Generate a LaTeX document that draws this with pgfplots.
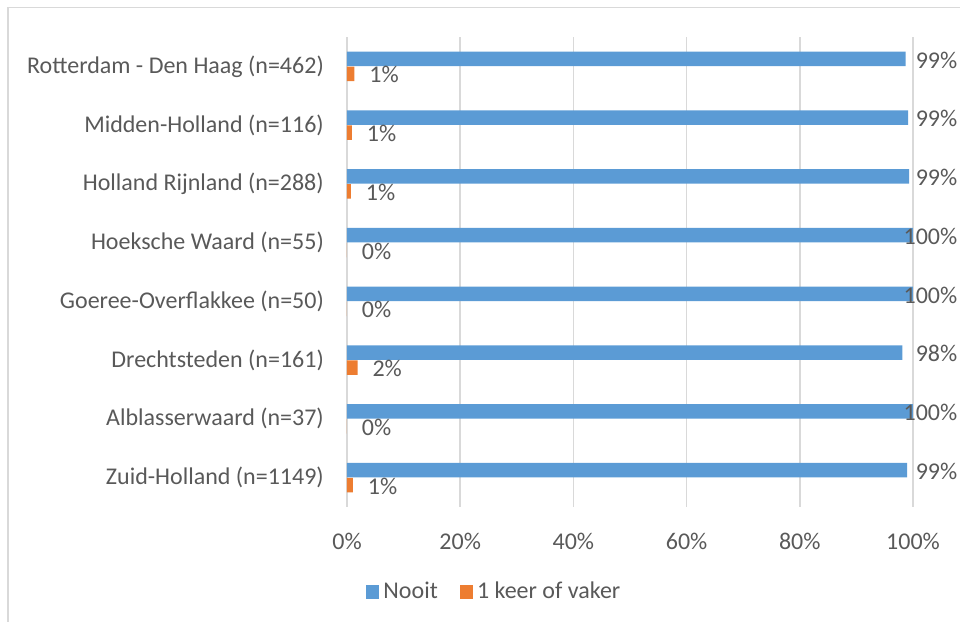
\documentclass[border=0pt]{standalone}
\usepackage{fontspec}
\setmainfont{Carlito}
\usepackage{pgfplots}
\pgfplotsset{compat=1.18}
\definecolor{nooit}{HTML}{5B9BD5}
\definecolor{vaker}{HTML}{ED7D31}
\definecolor{txt}{HTML}{595959}
\definecolor{grd}{HTML}{D9D9D9}

\begin{document}
\fontsize{12}{14.4}\selectfont
\begin{tikzpicture}[x=1pt,y=1pt]
\useasboundingbox (0,0) rectangle (480,311);
\draw[grd, line width=0.8pt] (4,307.3) rectangle (490,-10);
\begin{axis}[
    at={(173.5pt,57.5pt)}, anchor=south west,
    scale only axis, width=283pt, height=235pt,
    xmin=0, xmax=100, ymin=-0.5, ymax=7.5, y dir=reverse,
    clip=false,
    axis line style={draw=none},
    xtick={0,20,40,60,80,100},
    xticklabels={0\%,20\%,40\%,60\%,80\%,100\%},
    ytick={0,1,2,3,4,5,6,7},
    yticklabels={Rotterdam - Den Haag (n=462), Midden-Holland (n=116),
      Holland Rijnland (n=288), Hoeksche Waard (n=55),
      Goeree-Overflakkee (n=50), Drechtsteden (n=161),
      Alblasserwaard (n=37), Zuid-Holland (n=1149)},
    major tick length=0pt,
    tick style={draw=none},
    xmajorgrids,
    grid style={grd, line width=0.75pt},
    ticklabel style={text=txt},
    yticklabel style={xshift=-7.4pt},
    xticklabel style={yshift=-9pt},
    legend style={at={(0.262,-0.181)}, anchor=center, draw=none,
      legend columns=2, text=txt,
      /tikz/every even column/.append style={column sep=9pt}},
]
\addplot[xbar, bar width=7.3pt, bar shift=3.75pt, fill=nooit, draw=none,
  legend image code/.code={\fill[nooit] (0pt,-3.3pt) rectangle (6.6pt,3.3pt);}]
coordinates {
  (98.70,0) (99.14,1) (99.31,2) (100,3)
  (100,4) (98.14,5) (100,6) (98.96,7)
};
\addplot[xbar, bar width=7.3pt, bar shift=-3.75pt, fill=vaker, draw=none,
  nodes near coords, point meta=explicit symbolic,
  every node near coord/.append style={anchor=west, xshift=3.3pt, yshift=-4.2pt, text=txt},
  legend image code/.code={\fill[vaker] (0pt,-3.3pt) rectangle (6.6pt,3.3pt);}]
coordinates {
  (1.30,0) [1\%] (0.86,1) [1\%] (0.69,2) [1\%] (0,3) [0\%]
  (0,4) [0\%] (1.86,5) [2\%] (0,6) [0\%] (1.04,7) [1\%]
};
\addplot[draw=none, mark=none, nodes near coords, point meta=explicit symbolic,
  every node near coord/.append style={anchor=east, inner sep=0pt, text=txt}]
coordinates {
  (107.9,-0.11) [99\%] (107.9,0.89) [99\%] (107.9,1.89) [99\%]
  (107.9,2.89) [100\%] (107.9,3.89) [100\%] (107.9,4.89) [98\%]
  (107.9,5.89) [100\%] (107.9,6.89) [99\%]
};
\legend{Nooit, 1 keer of vaker}
\end{axis}
\end{tikzpicture}
\end{document}
